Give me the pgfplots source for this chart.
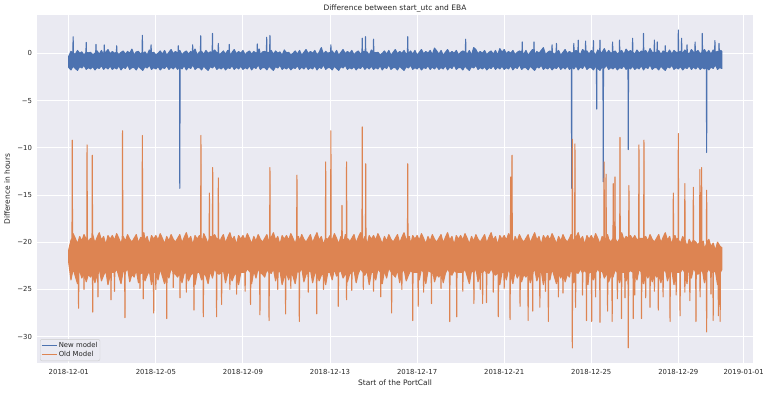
\documentclass[border=0pt]{standalone}
\usepackage{fontspec}
\setmainfont{DejaVu Sans}
\usepackage{pgfplots}
\pgfplotsset{compat=1.18}
\definecolor{bg}{HTML}{EAEAF2}
\definecolor{sblue}{HTML}{4C72B0}
\definecolor{sorange}{HTML}{DD8452}
\definecolor{txt}{HTML}{262626}
\definecolor{legedge}{HTML}{CCCCCC}
\begin{document}
\begin{tikzpicture}[x=1pt,y=1pt]
\useasboundingbox (0,0) rectangle (768,392);
\begin{axis}[
 at={(37pt,29pt)}, anchor=south west,
 scale only axis, width=716pt, height=348pt,
 xmin=-1.46, xmax=31.43, ymin=-32.8, ymax=4.06,
 axis background/.style={fill=bg},
 axis line style={draw=none},
 grid=major, major grid style={white, line width=0.9pt},
 major tick length=0pt,
 xtick={0,4,8,12,16,20,24,28,31},
 xticklabels={2018-12-01,2018-12-05,2018-12-09,2018-12-13,2018-12-17,2018-12-21,2018-12-25,2018-12-29,2019-01-01},
 ytick={-30,-25,-20,-15,-10,-5,0},
 yticklabels={−30,−25,−20,−15,−10,−5,0},
 tick label style={font=\fontsize{6.9}{8}\selectfont, text=txt},
 xticklabel style={yshift=-3pt},
 yticklabel style={xshift=-1.5pt},
 title={Difference between start\_utc and EBA},
 title style={font=\fontsize{7.5}{9}\selectfont, text=txt, at={(axis description cs:0.5,1)}, anchor=center, yshift=0pt},
 xlabel={Start of the PortCall},
 xlabel style={font=\fontsize{7.5}{9}\selectfont, text=txt, at={(axis description cs:0.5,0)}, anchor=center, yshift=-19.5pt},
 ylabel={Difference in hours},
 ylabel style={font=\fontsize{7.5}{9}\selectfont, text=txt, at={(axis description cs:0,0.5)}, anchor=center, yshift=30pt},
 legend style={at={(axis description cs:0,0)}, anchor=south west, xshift=3pt, yshift=2pt, fill=bg, fill opacity=0.8, text opacity=1, draw=legedge, rounded corners=2pt, font=\fontsize{6.9}{8}\selectfont, text=txt, inner sep=1pt, nodes={inner sep=1.5pt}},
 legend cell align=left,
 legend image code/.code={\draw[#1] (0pt,0pt) -- (15pt,0pt);},
]
\addlegendimage{sblue, line width=1.1pt}
\addlegendentry{New model}
\addlegendimage{sorange, line width=1.1pt}
\addlegendentry{Old Model}
\addplot[sblue, fill=sblue, line width=1.1pt, line join=round, forget plot] coordinates {
(0.0,-0.3)(0.1,0.2)(0.188,0.0)(0.2,1.76)(0.212,0.0)(0.3,-0.1)(0.4,0.3)(0.5,0.0)(0.6,0.15)(0.7,-0.2)(0.788,0.1)(0.8,1.16)(0.812,0.1)(0.9,0.05)
(1.0,0.1)(1.1,-0.15)(1.2,0.0)(1.238,0.1)(1.25,0.95)(1.262,0.1)(1.3,0.25)(1.4,-0.1)(1.5,0.3)(1.6,-0.2)(1.618,0.1)(1.63,0.9)(1.642,0.1)(1.7,0.1)(1.8,0.4)(1.9,-0.05)
(2.0,0.2)(2.1,0.0)(2.188,0.1)(2.2,0.8)(2.212,0.1)(2.3,-0.15)(2.4,0.1)(2.5,0.25)(2.6,-0.1)(2.7,0.2)(2.8,0.0)(2.9,0.45)
(3.0,-0.2)(3.1,0.15)(3.2,0.2)(3.3,-0.1)(3.368,0.1)(3.38,1.9)(3.392,0.1)(3.45,0.0)(3.5,0.15)(3.6,-0.2)(3.7,0.35)(3.768,0.1)(3.78,0.9)(3.792,0.1)(3.85,0.05)(3.9,0.1)
(4.0,-0.15)(4.1,0.0)(4.2,0.25)(4.3,-0.1)(4.4,0.3)(4.5,-0.2)(4.6,0.1)(4.7,0.4)(4.8,-0.05)(4.9,0.2)
(5.0,0.0)(5.018,0.1)(5.03,0.8)(5.042,0.1)(5.1,0.3)(5.2,-0.15)(5.3,0.1)(5.4,0.25)(5.5,-0.1)(5.6,0.2)(5.678,0.0)(5.69,0.9)(5.702,0.0)(5.8,0.45)(5.9,-0.2)
(6.0,0.15)(6.048,0.1)(6.06,1.86)(6.072,0.1)(6.1,0.2)(6.2,-0.1)(6.3,0.3)(6.4,0.0)(6.5,0.15)(6.588,0.1)(6.6,2.1)(6.612,0.1)(6.7,0.35)(6.8,0.05)(6.858,0.1)(6.87,1.05)(6.882,0.1)(6.9,-0.15)
(7.0,0.0)(7.1,0.25)(7.2,-0.1)(7.3,0.3)(7.358,0.1)(7.37,0.95)(7.382,0.1)(7.45,-0.2)(7.5,0.1)(7.6,0.4)(7.7,-0.05)(7.8,0.2)(7.9,0.0)
(8.0,0.3)(8.1,-0.15)(8.2,0.1)(8.3,0.25)(8.4,-0.1)(8.5,0.2)(8.6,0.0)(8.648,0.1)(8.66,1.0)(8.672,0.1)(8.75,0.45)(8.8,-0.2)(8.9,0.15)
(9.0,0.2)(9.078,0.0)(9.09,1.7)(9.102,0.0)(9.16,0.1)(9.228,0.1)(9.24,1.9)(9.252,0.1)(9.3,0.3)(9.4,-0.1)(9.5,0.25)(9.6,0.0)(9.7,0.15)(9.8,-0.2)(9.9,0.35)
(10.0,0.05)(10.1,0.1)(10.2,-0.15)(10.3,0.0)(10.4,0.25)(10.5,-0.1)(10.6,0.3)(10.7,-0.2)(10.8,0.1)(10.9,0.4)
(11.0,-0.05)(11.1,0.2)(11.2,0.0)(11.3,0.3)(11.4,-0.15)(11.5,0.1)(11.6,0.6)(11.7,-0.1)(11.8,0.2)(11.9,0.0)
(12.0,0.1)(12.028,0.1)(12.04,0.9)(12.052,0.1)(12.1,0.25)(12.2,-0.1)(12.3,0.3)(12.4,-0.2)(12.5,0.1)(12.6,0.4)(12.7,-0.05)(12.8,0.2)(12.9,0.0)
(13.0,0.3)(13.1,-0.15)(13.2,0.1)(13.3,0.25)(13.4,-0.1)(13.468,0.1)(13.48,1.6)(13.492,0.1)(13.55,0.2)(13.618,0.1)(13.63,1.76)(13.642,0.1)(13.7,0.15)(13.8,-0.2)(13.9,0.35)
(13.988,0.1)(14.0,1.5)(14.012,0.1)(14.1,0.05)(14.2,0.1)(14.3,-0.15)(14.4,0.0)(14.5,0.25)(14.6,-0.1)(14.7,0.3)(14.8,-0.2)(14.9,0.1)
(15.0,0.4)(15.1,-0.05)(15.2,0.2)(15.3,0.0)(15.4,0.3)(15.5,-0.15)(15.558,0.1)(15.57,1.76)(15.582,0.1)(15.65,0.1)(15.7,0.25)(15.8,-0.1)(15.9,0.3)
(16.0,-0.2)(16.1,0.1)(16.2,0.4)(16.3,-0.05)(16.4,0.2)(16.5,0.0)(16.6,0.3)(16.7,-0.15)(16.8,0.55)(16.9,0.25)
(17.0,-0.1)(17.1,0.3)(17.2,-0.2)(17.3,0.1)(17.4,0.4)(17.5,-0.05)(17.6,0.2)(17.7,0.0)(17.8,0.3)(17.9,-0.15)
(18.0,0.1)(18.1,0.25)(18.218,0.1)(18.23,1.5)(18.242,0.1)(18.3,-0.1)(18.4,0.3)(18.5,-0.2)(18.6,0.6)(18.7,0.4)(18.8,-0.05)(18.9,0.2)
(19.0,0.0)(19.1,0.3)(19.2,-0.15)(19.3,0.1)(19.4,0.25)(19.5,-0.1)(19.6,0.3)(19.7,-0.2)(19.8,0.5)(19.9,0.1)
(20.0,0.4)(20.1,-0.05)(20.2,0.2)(20.3,0.0)(20.4,0.3)(20.5,-0.15)(20.6,0.1)(20.7,0.25)(20.818,0.1)(20.83,1.2)(20.842,0.1)(20.9,-0.1)
(21.0,0.3)(21.1,-0.2)(21.2,0.1)(21.3,0.4)(21.358,0.1)(21.37,1.2)(21.382,0.1)(21.45,-0.05)(21.5,0.2)(21.6,0.0)(21.7,0.3)(21.8,0.6)(21.9,-0.15)
(22.0,0.1)(22.1,0.25)(22.188,0.1)(22.2,0.9)(22.212,0.1)(22.3,-0.1)(22.388,0.1)(22.4,1.05)(22.412,0.1)(22.5,0.3)(22.6,-0.2)(22.7,0.1)(22.8,0.4)(22.9,-0.05)
(23.0,0.2)(23.1,0.0)(23.188,0.1)(23.2,1.05)(23.212,0.1)(23.3,0.3)(23.388,0.1)(23.4,1.4)(23.412,0.1)(23.5,-0.15)(23.6,0.4)(23.728,0.1)(23.74,1.3)(23.752,0.1)(23.8,0.25)(23.9,-0.1)
(24.0,0.3)(24.088,0.1)(24.1,1.35)(24.112,0.1)(24.2,-0.2)(24.3,0.35)(24.388,0.1)(24.4,1.4)(24.412,0.1)(24.5,0.1)(24.6,0.5)(24.7,-0.05)(24.8,0.3)(24.9,0.0)
(24.968,0.1)(24.98,1.2)(24.992,0.1)(25.1,0.25)(25.2,-0.1)(25.288,0.1)(25.3,1.4)(25.312,0.1)(25.4,0.3)(25.5,-0.15)(25.6,0.45)(25.7,0.1)(25.8,0.3)(25.888,0.1)(25.9,1.6)(25.912,0.1)
(26.0,-0.1)(26.1,0.35)(26.2,0.0)(26.3,0.25)(26.388,0.1)(26.4,2.1)(26.412,0.1)(26.5,0.3)(26.6,-0.1)(26.7,0.5)(26.8,0.1)(26.888,0.1)(26.9,1.4)(26.912,0.1)
(27.018,0.1)(27.03,1.2)(27.042,0.1)(27.1,0.3)(27.2,-0.15)(27.3,0.25)(27.388,0.1)(27.4,0.8)(27.412,0.1)(27.5,0.0)(27.6,0.35)(27.7,-0.1)(27.8,0.3)(27.9,0.1)
(27.988,0.1)(28.0,2.47)(28.012,0.1)(28.1,0.2)(28.138,0.1)(28.15,1.6)(28.162,0.1)(28.2,0.0)(28.3,0.35)(28.388,0.1)(28.4,0.9)(28.412,0.1)(28.5,-0.1)(28.6,0.4)(28.7,0.1)(28.758,0.1)(28.77,1.2)(28.782,0.1)(28.9,0.3)
(29.0,-0.05)(29.088,0.1)(29.1,2.1)(29.112,0.1)(29.2,0.4)(29.3,0.0)(29.4,0.3)(29.5,-0.1)(29.6,0.35)(29.668,0.1)(29.68,1.35)(29.692,0.1)(29.8,0.2)(29.858,0.1)(29.87,1.05)(29.882,0.1)(29.95,0.3)(30.0,0.2)
(30.0,-1.6)(29.9,-1.5)(29.8,-1.7)(29.7,-1.2)(29.6,-1.6)(29.5,-1.45)(29.4,-1.75)(29.312,-1.4)(29.3,-10.5)(29.288,-1.4)(29.2,-1.65)(29.1,-1.5)(29.0,-1.7)
(28.9,-1.35)(28.8,-1.65)(28.7,-1.45)(28.6,-1.7)(28.5,-1.3)(28.4,-1.6)(28.3,-1.5)(28.2,-1.75)(28.1,-1.4)(28.0,-1.65)
(27.9,-1.5)(27.8,-1.7)(27.7,-1.25)(27.6,-1.55)(27.5,-1.4)(27.4,-1.8)(27.3,-1.6)(27.2,-1.35)(27.1,-1.75)(27.0,-1.5)
(26.9,-1.5)(26.8,-1.7)(26.7,-1.2)(26.6,-1.6)(26.5,-1.45)(26.4,-1.75)(26.3,-1.3)(26.2,-1.65)(26.1,-1.5)(26.0,-1.7)
(25.9,-1.35)(25.8,-1.65)(25.712,-1.4)(25.7,-10.2)(25.688,-1.4)(25.6,-1.7)(25.5,-1.3)(25.4,-1.6)(25.3,-1.5)(25.2,-1.75)(25.1,-1.4)(25.0,-1.65)
(24.9,-1.5)(24.8,-1.7)(24.7,-1.25)(24.6,-1.55)(24.562,-1.4)(24.55,-13.6)(24.538,-1.4)(24.5,-1.4)(24.4,-1.8)(24.3,-1.6)(24.262,-1.4)(24.25,-5.9)(24.238,-1.4)(24.2,-1.35)(24.1,-1.75)(24.0,-1.5)
(23.9,-1.5)(23.8,-1.7)(23.7,-1.2)(23.6,-1.6)(23.5,-1.45)(23.4,-1.75)(23.3,-1.3)(23.2,-1.65)(23.112,-1.4)(23.1,-14.3)(23.088,-1.4)(23.0,-1.7)
(22.9,-1.35)(22.8,-1.65)(22.7,-1.45)(22.6,-1.7)(22.5,-1.3)(22.4,-1.6)(22.3,-1.5)(22.2,-1.75)(22.1,-1.4)(22.0,-1.65)
(21.9,-1.5)(21.8,-1.7)(21.7,-1.25)(21.6,-1.55)(21.5,-1.4)(21.4,-1.8)(21.3,-1.6)(21.2,-1.35)(21.1,-1.75)(21.0,-1.5)
(20.9,-1.5)(20.8,-1.7)(20.7,-1.2)(20.6,-1.6)(20.5,-1.45)(20.4,-1.75)(20.3,-1.3)(20.2,-1.65)(20.1,-1.5)(20.0,-1.7)
(19.9,-1.35)(19.8,-1.65)(19.7,-1.45)(19.6,-1.7)(19.5,-1.3)(19.4,-1.6)(19.3,-1.5)(19.2,-1.75)(19.1,-1.4)(19.0,-1.65)
(18.9,-1.5)(18.8,-1.7)(18.7,-1.25)(18.6,-1.55)(18.5,-1.4)(18.4,-1.8)(18.3,-1.6)(18.2,-1.35)(18.1,-1.75)(18.0,-1.5)
(17.9,-1.5)(17.8,-1.7)(17.7,-1.2)(17.6,-1.6)(17.5,-1.45)(17.4,-1.75)(17.3,-1.3)(17.2,-1.65)(17.1,-1.5)(17.0,-1.7)
(16.9,-1.35)(16.8,-1.65)(16.7,-1.45)(16.6,-1.7)(16.5,-1.3)(16.4,-1.6)(16.3,-1.5)(16.2,-1.75)(16.1,-1.4)(16.0,-1.65)
(15.9,-1.5)(15.8,-1.7)(15.7,-1.25)(15.6,-1.55)(15.5,-1.4)(15.4,-1.8)(15.3,-1.6)(15.2,-1.35)(15.1,-1.75)(15.0,-1.5)
(14.9,-1.5)(14.8,-1.7)(14.7,-1.2)(14.6,-1.6)(14.5,-1.45)(14.4,-1.75)(14.3,-1.3)(14.2,-1.65)(14.1,-1.5)(14.0,-1.7)
(13.9,-1.35)(13.8,-1.65)(13.7,-1.45)(13.6,-1.7)(13.5,-1.3)(13.4,-1.6)(13.3,-1.5)(13.2,-1.75)(13.1,-1.4)(13.0,-1.65)
(12.9,-1.5)(12.8,-1.7)(12.7,-1.25)(12.6,-1.55)(12.5,-1.4)(12.4,-1.8)(12.3,-1.6)(12.2,-1.35)(12.1,-1.75)(12.0,-1.5)
(11.9,-1.5)(11.8,-1.7)(11.7,-1.2)(11.6,-1.6)(11.5,-1.45)(11.4,-1.75)(11.3,-1.3)(11.2,-1.65)(11.1,-1.5)(11.0,-1.7)
(10.9,-1.35)(10.8,-1.65)(10.7,-1.45)(10.6,-1.7)(10.5,-1.3)(10.4,-1.6)(10.3,-1.5)(10.2,-1.75)(10.1,-1.4)(10.0,-1.65)
(9.9,-1.5)(9.8,-1.7)(9.7,-1.25)(9.6,-1.55)(9.5,-1.4)(9.4,-1.8)(9.3,-1.6)(9.2,-1.35)(9.1,-1.75)(9.0,-1.5)
(8.9,-1.5)(8.8,-1.7)(8.7,-1.2)(8.6,-1.6)(8.5,-1.45)(8.4,-1.75)(8.3,-1.3)(8.2,-1.65)(8.1,-1.5)(8.0,-1.7)
(7.9,-1.35)(7.8,-1.65)(7.7,-1.45)(7.6,-1.7)(7.5,-1.3)(7.4,-1.6)(7.3,-1.5)(7.2,-1.75)(7.1,-1.4)(7.0,-1.65)
(6.9,-1.5)(6.8,-1.7)(6.7,-1.25)(6.6,-1.55)(6.5,-1.4)(6.4,-1.8)(6.3,-1.6)(6.2,-1.35)(6.1,-1.75)(6.0,-1.5)
(5.9,-1.5)(5.8,-1.7)(5.7,-1.2)(5.6,-1.6)(5.5,-1.45)(5.4,-1.75)(5.3,-1.3)(5.2,-1.65)(5.112,-1.4)(5.1,-14.3)(5.088,-1.4)(5.0,-1.7)
(4.9,-1.35)(4.8,-1.65)(4.7,-1.45)(4.6,-1.7)(4.5,-1.3)(4.4,-1.6)(4.3,-1.5)(4.2,-1.75)(4.1,-1.4)(4.0,-1.65)
(3.9,-1.5)(3.8,-1.7)(3.7,-1.25)(3.6,-1.55)(3.5,-1.4)(3.4,-1.8)(3.3,-1.6)(3.2,-1.35)(3.1,-1.75)(3.0,-1.5)
(2.9,-1.5)(2.8,-1.7)(2.7,-1.2)(2.6,-1.6)(2.5,-1.45)(2.4,-1.75)(2.3,-1.3)(2.2,-1.65)(2.1,-1.5)(2.0,-1.7)
(1.9,-1.35)(1.8,-1.65)(1.7,-1.45)(1.6,-1.7)(1.5,-1.3)(1.4,-1.6)(1.3,-1.5)(1.2,-1.75)(1.1,-1.4)(1.0,-1.65)
(0.9,-1.5)(0.8,-1.7)(0.7,-1.25)(0.6,-1.55)(0.5,-1.4)(0.4,-1.8)(0.3,-1.6)(0.2,-1.35)(0.1,-1.75)(0.0,-1.5)(0.0,-0.3)
};
\addplot[sorange, fill=sorange, line width=1.1pt, line join=round, forget plot] coordinates {
(0.0,-20.8)(0.1,-19.8)(0.148,-19.6)(0.16,-9.2)(0.172,-19.6)(0.2,-19.1)(0.3,-19.6)(0.4,-20.2)(0.5,-19.4)(0.6,-19.9)(0.7,-19.2)(0.8,-19.7)(0.828,-19.6)(0.84,-9.7)(0.852,-19.6)(0.9,-20.0)
(1.0,-19.6)(1.068,-19.6)(1.08,-10.8)(1.092,-19.6)(1.1,-19.2)(1.2,-20.1)(1.3,-19.5)(1.4,-19.0)(1.5,-19.8)(1.6,-19.4)(1.7,-20.3)(1.8,-19.3)(1.9,-19.7)
(2.0,-19.3)(2.1,-19.8)(2.2,-19.1)(2.3,-19.6)(2.4,-20.2)(2.458,-19.6)(2.47,-8.2)(2.482,-19.6)(2.5,-19.4)(2.6,-19.9)(2.7,-19.2)(2.8,-19.7)(2.9,-20.0)
(3.0,-19.6)(3.1,-19.2)(3.2,-20.1)(3.3,-19.5)(3.368,-19.6)(3.38,-8.7)(3.392,-19.6)(3.45,-19.0)(3.5,-19.8)(3.6,-19.4)(3.7,-20.3)(3.8,-19.3)(3.9,-19.7)
(4.0,-19.3)(4.1,-19.8)(4.2,-19.1)(4.3,-19.6)(4.4,-20.2)(4.5,-19.4)(4.6,-19.9)(4.7,-19.2)(4.8,-19.7)(4.9,-20.0)
(5.0,-19.6)(5.1,-19.2)(5.2,-20.1)(5.3,-19.5)(5.4,-19.0)(5.5,-19.8)(5.6,-19.4)(5.7,-20.3)(5.8,-19.3)(5.9,-19.7)
(6.0,-19.3)(6.058,-19.6)(6.07,-8.7)(6.082,-19.6)(6.15,-19.8)(6.2,-19.1)(6.3,-19.6)(6.4,-20.2)(6.448,-19.6)(6.46,-14.8)(6.472,-19.6)(6.53,-19.4)(6.598,-19.6)(6.61,-12.1)(6.622,-19.6)(6.7,-19.2)(6.8,-19.7)(6.858,-19.6)(6.87,-13.2)(6.882,-19.6)(6.95,-20.0)
(7.0,-19.6)(7.1,-19.2)(7.2,-20.1)(7.3,-19.5)(7.4,-19.0)(7.5,-19.8)(7.6,-19.4)(7.7,-20.3)(7.8,-19.3)(7.9,-19.7)
(8.0,-19.3)(8.1,-19.8)(8.2,-19.1)(8.3,-19.6)(8.4,-20.2)(8.5,-19.4)(8.6,-19.9)(8.7,-19.2)(8.8,-19.7)(8.9,-20.0)
(9.0,-19.6)(9.1,-19.2)(9.2,-20.1)(9.228,-19.6)(9.24,-12.1)(9.252,-19.6)(9.3,-19.5)(9.4,-19.0)(9.5,-19.8)(9.6,-19.4)(9.7,-20.3)(9.8,-19.3)(9.9,-19.7)
(10.0,-19.3)(10.1,-19.8)(10.2,-19.1)(10.3,-19.6)(10.4,-20.2)(10.468,-19.6)(10.48,-12.9)(10.492,-19.6)(10.55,-19.4)(10.6,-19.9)(10.7,-19.2)(10.8,-19.7)(10.9,-20.0)
(11.0,-19.6)(11.1,-19.2)(11.2,-20.1)(11.3,-19.5)(11.4,-19.0)(11.5,-19.8)(11.6,-19.4)(11.7,-20.3)(11.788,-19.6)(11.8,-11.5)(11.812,-19.6)(11.9,-19.7)
(12.0,-19.3)(12.028,-19.6)(12.04,-8.2)(12.052,-19.6)(12.1,-19.8)(12.2,-19.1)(12.3,-19.6)(12.4,-20.2)(12.5,-19.4)(12.538,-19.6)(12.55,-16.1)(12.562,-19.6)(12.65,-19.9)(12.7,-19.2)(12.748,-19.6)(12.76,-11.5)(12.772,-19.6)(12.85,-19.7)(12.9,-20.0)
(13.0,-19.6)(13.1,-19.2)(13.2,-20.1)(13.3,-19.5)(13.4,-19.0)(13.468,-19.6)(13.48,-7.8)(13.492,-19.6)(13.55,-19.8)(13.6,-19.4)(13.628,-19.6)(13.64,-11.7)(13.652,-19.6)(13.7,-20.3)(13.8,-19.3)(13.9,-19.7)
(14.0,-19.3)(14.1,-19.8)(14.2,-19.1)(14.3,-19.6)(14.4,-20.2)(14.5,-19.4)(14.6,-19.9)(14.7,-19.2)(14.8,-19.7)(14.9,-20.0)
(15.0,-19.6)(15.1,-19.2)(15.2,-20.1)(15.3,-19.5)(15.4,-19.0)(15.5,-19.8)(15.558,-19.6)(15.57,-11.7)(15.582,-19.6)(15.65,-19.4)(15.7,-20.3)(15.8,-19.3)(15.9,-19.7)
(16.0,-19.3)(16.1,-19.8)(16.2,-19.1)(16.3,-19.6)(16.4,-20.2)(16.5,-19.4)(16.6,-19.9)(16.7,-19.2)(16.8,-19.7)(16.9,-20.0)
(17.0,-19.6)(17.1,-19.2)(17.2,-20.1)(17.3,-19.5)(17.4,-19.0)(17.5,-19.8)(17.6,-19.4)(17.7,-20.3)(17.8,-19.3)(17.9,-19.7)
(18.0,-19.3)(18.1,-19.8)(18.2,-19.1)(18.3,-19.6)(18.4,-20.2)(18.5,-19.4)(18.6,-19.9)(18.7,-19.2)(18.8,-19.7)(18.9,-20.0)
(19.0,-19.6)(19.1,-19.2)(19.2,-20.1)(19.3,-19.5)(19.4,-19.0)(19.5,-19.8)(19.6,-19.4)(19.7,-20.3)(19.8,-19.3)(19.9,-19.7)
(20.0,-19.3)(20.1,-19.8)(20.2,-19.1)(20.288,-19.6)(20.3,-13.1)(20.318,-19.8)(20.348,-19.6)(20.36,-10.8)(20.372,-19.6)(20.45,-20.2)(20.5,-19.4)(20.6,-19.9)(20.7,-19.2)(20.8,-19.7)(20.9,-20.0)
(21.0,-19.6)(21.1,-19.2)(21.2,-20.1)(21.3,-19.5)(21.4,-19.0)(21.5,-19.8)(21.6,-19.4)(21.7,-20.3)(21.8,-19.3)(21.9,-19.7)
(22.0,-19.3)(22.1,-19.8)(22.2,-19.1)(22.3,-19.6)(22.4,-20.2)(22.5,-19.4)(22.6,-19.9)(22.7,-19.2)(22.8,-19.7)(22.9,-20.0)
(23.0,-19.6)(23.07,-19.2)(23.118,-19.6)(23.13,-9.1)(23.142,-19.6)(23.2,-20.1)(23.238,-19.6)(23.25,-9.6)(23.262,-19.6)(23.3,-19.5)(23.4,-19.0)(23.5,-19.8)(23.6,-19.4)(23.7,-20.3)(23.8,-19.3)(23.9,-19.7)
(24.0,-19.3)(24.1,-19.8)(24.2,-19.1)(24.3,-19.6)(24.4,-20.2)(24.5,-19.4)(24.578,-19.6)(24.59,-11.5)(24.602,-19.6)(24.668,-19.6)(24.68,-12.8)(24.692,-19.6)(24.75,-19.2)(24.8,-19.7)(24.9,-20.0)
(24.998,-19.6)(25.01,-13.8)(25.022,-19.6)(25.078,-19.6)(25.09,-13.1)(25.102,-19.6)(25.2,-20.1)(25.308,-19.6)(25.32,-8.9)(25.332,-19.6)(25.4,-19.0)(25.5,-19.8)(25.6,-19.4)(25.718,-19.6)(25.73,-14.0)(25.742,-19.6)(25.8,-19.3)(25.9,-19.7)
(26.0,-19.3)(26.1,-19.8)(26.178,-19.6)(26.19,-9.7)(26.202,-19.6)(26.3,-19.6)(26.408,-19.6)(26.42,-9.2)(26.432,-19.6)(26.5,-19.4)(26.6,-19.9)(26.7,-19.2)(26.8,-19.7)(26.9,-20.0)
(27.0,-19.6)(27.1,-19.2)(27.2,-20.1)(27.3,-19.5)(27.4,-19.0)(27.5,-19.8)(27.6,-19.4)(27.7,-20.3)(27.758,-19.6)(27.77,-14.8)(27.782,-19.6)(27.85,-19.3)(27.9,-19.7)
(27.988,-19.6)(28.0,-8.5)(28.012,-19.8)(28.1,-20.1)(28.2,-19.4)(28.288,-19.8)(28.3,-13.8)(28.312,-19.8)(28.4,-20.5)(28.5,-19.7)(28.6,-20.2)(28.678,-19.8)(28.69,-14.2)(28.702,-19.8)(28.8,-20.0)(28.9,-20.3)(28.978,-20.0)(28.99,-12.3)(29.002,-20.0)
(29.058,-20.2)(29.07,-12.1)(29.082,-20.2)(29.15,-19.9)(29.2,-20.8)(29.288,-20.2)(29.3,-14.5)(29.312,-20.2)(29.4,-19.7)(29.5,-20.5)(29.6,-20.1)(29.7,-20.9)(29.8,-20.0)(29.9,-20.4)(30.0,-20.6)
(30.0,-22.9)(29.932,-23.2)(29.92,-28.4)(29.908,-23.2)(29.852,-23.2)(29.84,-27.8)(29.828,-23.2)(29.8,-24.5)(29.7,-23.0)(29.612,-23.2)(29.6,-28.3)(29.588,-23.2)(29.512,-23.2)(29.5,-25.5)(29.488,-23.2)(29.4,-22.8)(29.312,-23.2)(29.3,-29.5)(29.288,-23.2)(29.2,-24.3)(29.1,-22.9)(29.012,-23.2)(29.0,-25.8)(28.988,-23.2)
(28.9,-23.4)(28.822,-23.2)(28.81,-28.4)(28.798,-23.2)(28.7,-22.7)(28.6,-23.8)(28.542,-23.2)(28.53,-26.2)(28.518,-23.2)(28.45,-23.0)(28.4,-24.4)(28.312,-23.2)(28.3,-25.3)(28.288,-23.2)(28.2,-22.8)(28.092,-23.2)(28.08,-27.8)(28.068,-23.2)(28.0,-23.2)
(27.912,-23.2)(27.9,-25.6)(27.888,-23.2)(27.8,-24.5)(27.7,-23.0)(27.632,-23.2)(27.62,-28.4)(27.608,-23.2)(27.5,-24.1)(27.4,-22.8)(27.312,-23.2)(27.3,-25.8)(27.288,-23.2)(27.2,-24.3)(27.092,-23.2)(27.08,-27.2)(27.068,-23.2)(27.0,-23.7)
(26.912,-23.2)(26.9,-25.2)(26.888,-23.2)(26.8,-24.2)(26.712,-23.2)(26.7,-26.9)(26.688,-23.2)(26.6,-23.8)(26.512,-23.2)(26.5,-25.9)(26.488,-23.2)(26.4,-24.4)(26.322,-23.2)(26.31,-28.1)(26.298,-23.2)(26.2,-22.8)(26.1,-24.0)(26.012,-23.2)(26.0,-25.6)(25.988,-23.2)
(25.942,-23.2)(25.93,-28.1)(25.918,-23.2)(25.8,-23.0)(25.712,-23.2)(25.7,-31.2)(25.688,-23.2)(25.6,-24.1)(25.562,-23.2)(25.55,-25.9)(25.538,-23.2)(25.402,-23.2)(25.39,-28.1)(25.378,-23.2)(25.3,-24.3)(25.212,-23.2)(25.2,-26.0)(25.188,-23.2)(25.1,-22.9)(25.0,-23.7)
(24.972,-23.2)(24.96,-28.4)(24.948,-23.2)(24.8,-24.2)(24.762,-23.2)(24.75,-27.3)(24.738,-23.2)(24.6,-23.8)(24.5,-23.0)(24.412,-23.2)(24.4,-28.5)(24.388,-23.2)(24.3,-22.8)(24.212,-23.2)(24.2,-25.8)(24.188,-23.2)(24.1,-24.0)(24.032,-23.2)(24.02,-28.4)(24.008,-23.2)
(23.9,-23.2)(23.85,-24.5)(23.792,-23.2)(23.78,-28.3)(23.768,-23.2)(23.7,-23.0)(23.612,-23.2)(23.6,-25.6)(23.588,-23.2)(23.5,-22.8)(23.4,-23.3)(23.292,-23.2)(23.28,-26.9)(23.268,-23.2)(23.2,-24.3)(23.142,-23.2)(23.13,-31.2)(23.118,-23.2)(23.05,-22.9)(23.0,-23.7)
(22.9,-23.4)(22.8,-24.2)(22.712,-23.2)(22.7,-25.4)(22.688,-23.2)(22.6,-23.8)(22.502,-23.2)(22.49,-25.8)(22.478,-23.2)(22.4,-24.4)(22.3,-23.6)(22.2,-22.8)(22.1,-24.0)(22.042,-23.2)(22.03,-28.4)(22.018,-23.2)(22.0,-23.2)
(21.912,-23.2)(21.9,-25.2)(21.888,-23.2)(21.8,-24.5)(21.7,-23.0)(21.652,-23.2)(21.64,-26.9)(21.628,-23.2)(21.5,-24.1)(21.4,-22.8)(21.322,-23.2)(21.31,-27.3)(21.298,-23.2)(21.2,-24.3)(21.112,-23.2)(21.1,-28.3)(21.088,-23.2)(21.0,-23.7)
(20.9,-23.4)(20.8,-24.2)(20.742,-23.2)(20.73,-26.8)(20.718,-23.2)(20.6,-23.8)(20.5,-23.0)(20.4,-24.4)(20.282,-23.2)(20.27,-28.2)(20.258,-23.2)(20.2,-22.8)(20.1,-24.0)(20.012,-23.2)(20.0,-24.9)(19.988,-23.2)
(19.9,-23.2)(19.8,-24.5)(19.742,-23.2)(19.73,-27.9)(19.718,-23.2)(19.6,-23.5)(19.512,-23.2)(19.5,-25.3)(19.488,-23.2)(19.4,-22.8)(19.3,-23.3)(19.202,-23.2)(19.19,-26.4)(19.178,-23.2)(19.1,-22.9)(19.022,-23.2)(19.01,-26.5)(18.998,-23.2)
(18.912,-23.2)(18.9,-25.0)(18.888,-23.2)(18.8,-24.2)(18.7,-22.7)(18.622,-23.2)(18.61,-26.5)(18.598,-23.2)(18.5,-23.0)(18.4,-24.4)(18.3,-23.6)(18.2,-22.8)(18.112,-23.2)(18.1,-25.2)(18.088,-23.2)(18.0,-23.2)
(17.9,-23.2)(17.832,-23.2)(17.82,-27.9)(17.808,-23.2)(17.7,-23.0)(17.6,-23.5)(17.512,-23.2)(17.5,-28.4)(17.488,-23.2)(17.4,-22.8)(17.3,-23.3)(17.2,-24.3)(17.112,-23.2)(17.1,-24.9)(17.088,-23.2)(17.0,-23.7)
(16.9,-23.4)(16.8,-24.2)(16.7,-22.7)(16.672,-23.2)(16.66,-26.5)(16.648,-23.2)(16.5,-23.0)(16.4,-24.4)(16.312,-23.2)(16.3,-25.3)(16.288,-23.2)(16.2,-22.8)(16.1,-24.0)(16.062,-23.2)(16.05,-26.8)(16.038,-23.2)(16.0,-23.2)
(15.9,-23.2)(15.812,-23.2)(15.8,-28.3)(15.788,-23.2)(15.7,-23.0)(15.6,-23.5)(15.5,-24.1)(15.4,-22.8)(15.312,-23.2)(15.3,-25.0)(15.288,-23.2)(15.2,-24.3)(15.1,-22.9)(15.0,-23.7)
(14.9,-23.4)(14.842,-23.2)(14.83,-27.5)(14.818,-23.2)(14.7,-22.7)(14.6,-23.8)(14.5,-23.0)(14.4,-24.4)(14.342,-23.2)(14.33,-25.8)(14.318,-23.2)(14.2,-22.8)(14.1,-24.0)(14.012,-23.2)(14.0,-25.2)(13.988,-23.2)
(13.9,-23.2)(13.8,-24.5)(13.7,-23.0)(13.6,-23.5)(13.542,-23.2)(13.53,-25.0)(13.518,-23.2)(13.4,-22.8)(13.3,-23.3)(13.2,-24.3)(13.1,-22.9)(13.012,-23.2)(13.0,-25.1)(12.988,-23.2)
(12.9,-23.4)(12.8,-24.2)(12.772,-23.2)(12.76,-26.1)(12.748,-23.2)(12.6,-23.8)(12.5,-23.0)(12.392,-23.2)(12.38,-26.8)(12.368,-23.2)(12.3,-23.6)(12.2,-22.8)(12.1,-24.0)(12.0,-23.2)
(11.9,-23.2)(11.8,-24.5)(11.712,-23.2)(11.7,-25.0)(11.688,-23.2)(11.6,-23.5)(11.5,-24.1)(11.402,-23.2)(11.39,-27.6)(11.378,-23.2)(11.3,-23.3)(11.2,-24.3)(11.1,-22.9)(11.012,-23.2)(11.0,-25.3)(10.988,-23.2)
(10.9,-23.4)(10.8,-24.2)(10.7,-22.7)(10.602,-23.2)(10.59,-28.4)(10.578,-23.2)(10.5,-23.0)(10.4,-24.4)(10.3,-23.6)(10.212,-23.2)(10.2,-24.9)(10.188,-23.2)(10.1,-24.0)(10.0,-23.2)
(9.972,-23.2)(9.96,-27.6)(9.948,-23.2)(9.8,-24.5)(9.7,-23.0)(9.612,-23.2)(9.6,-25.0)(9.588,-23.2)(9.5,-24.1)(9.4,-22.8)(9.3,-23.3)(9.212,-23.2)(9.2,-28.3)(9.188,-23.2)(9.1,-22.9)(9.0,-23.7)
(8.9,-23.4)(8.792,-23.2)(8.78,-27.7)(8.768,-23.2)(8.7,-22.7)(8.6,-23.8)(8.5,-23.0)(8.4,-24.4)(8.362,-23.2)(8.35,-26.6)(8.338,-23.2)(8.2,-22.8)(8.112,-23.2)(8.1,-25.2)(8.088,-23.2)(8.0,-23.2)
(7.9,-23.2)(7.8,-24.5)(7.722,-23.2)(7.71,-25.5)(7.698,-23.2)(7.6,-23.5)(7.5,-24.1)(7.412,-23.2)(7.4,-25.0)(7.388,-23.2)(7.3,-23.3)(7.2,-24.3)(7.1,-22.9)(7.032,-23.2)(7.02,-26.6)(7.008,-23.2)
(6.9,-23.4)(6.802,-23.2)(6.79,-27.9)(6.778,-23.2)(6.7,-22.7)(6.6,-23.8)(6.5,-23.0)(6.4,-24.4)(6.3,-23.6)(6.192,-23.2)(6.18,-27.9)(6.168,-23.2)(6.1,-24.0)(6.0,-23.2)
(5.9,-23.2)(5.8,-24.5)(5.762,-23.2)(5.75,-27.2)(5.738,-23.2)(5.6,-23.5)(5.5,-24.1)(5.412,-23.2)(5.4,-25.3)(5.388,-23.2)(5.3,-23.3)(5.2,-24.3)(5.122,-23.2)(5.11,-25.9)(5.098,-23.2)(5.0,-23.7)
(4.9,-23.4)(4.812,-23.2)(4.8,-24.8)(4.788,-23.2)(4.7,-22.7)(4.6,-23.8)(4.512,-23.2)(4.5,-28.1)(4.488,-23.2)(4.4,-24.4)(4.3,-23.6)(4.2,-22.8)(4.1,-24.0)(4.012,-23.2)(4.0,-25.0)(3.988,-23.2)
(3.912,-23.2)(3.9,-27.5)(3.888,-23.2)(3.8,-24.5)(3.7,-23.0)(3.6,-23.5)(3.5,-24.1)(3.432,-23.2)(3.42,-26.0)(3.408,-23.2)(3.33,-23.3)(3.282,-23.2)(3.27,-24.9)(3.258,-23.2)(3.2,-24.3)(3.1,-22.9)(3.0,-23.7)
(2.9,-23.4)(2.8,-24.2)(2.7,-22.7)(2.592,-23.2)(2.58,-28.0)(2.568,-23.2)(2.5,-23.0)(2.4,-24.4)(2.3,-23.6)(2.2,-22.8)(2.112,-23.2)(2.1,-25.2)(2.088,-23.2)(2.0,-23.2)
(1.952,-23.2)(1.94,-26.1)(1.928,-23.2)(1.8,-24.5)(1.7,-23.0)(1.6,-23.5)(1.5,-24.1)(1.4,-22.8)(1.352,-23.2)(1.34,-25.8)(1.328,-23.2)(1.2,-24.3)(1.112,-23.2)(1.1,-27.4)(1.088,-23.2)(1.0,-23.7)
(0.9,-23.4)(0.8,-24.2)(0.712,-23.2)(0.7,-25.0)(0.688,-23.2)(0.6,-23.8)(0.5,-23.0)(0.462,-23.2)(0.45,-27.0)(0.438,-23.2)(0.4,-24.4)(0.3,-23.6)(0.2,-22.8)(0.1,-24.0)(0.0,-22.2)(0.0,-20.8)
};
\end{axis}
\end{tikzpicture}
\end{document}
